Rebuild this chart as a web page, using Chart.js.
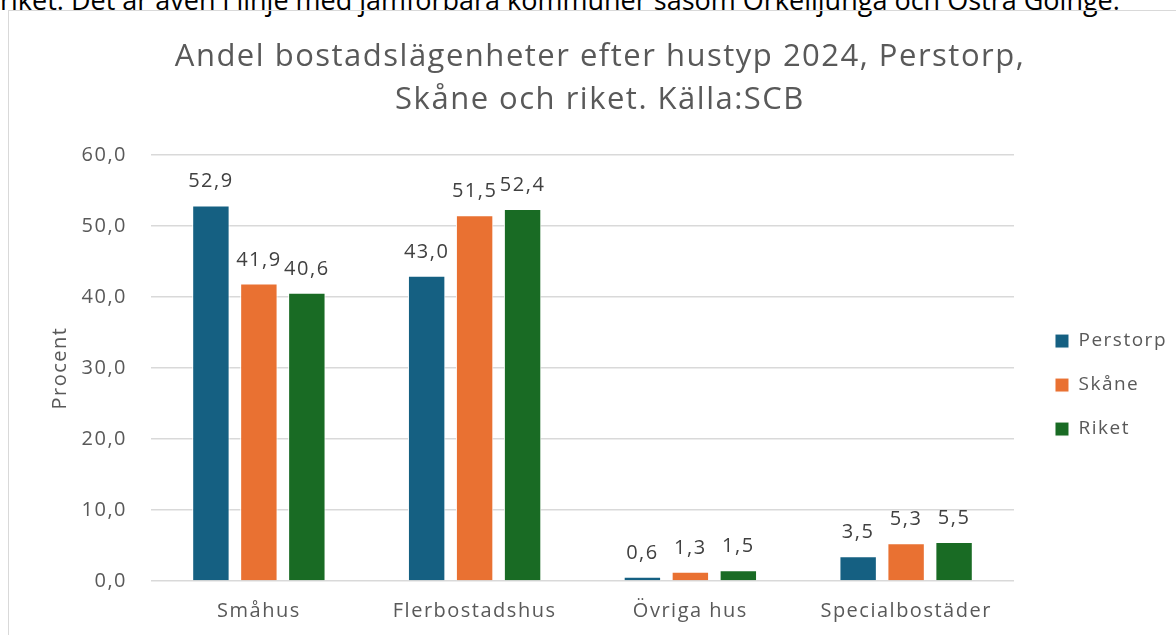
<!DOCTYPE html>
<html>
<head>
<meta charset="utf-8">
<script src="https://cdn.jsdelivr.net/npm/chart.js@4"></script>
<style>
  html, body { margin: 0; padding: 0; background: #fff; overflow: hidden; }
  body { width: 1176px; height: 635px; position: relative; font-family: "Open Sans", sans-serif; }
  #txt { position: absolute; left: 0; top: -15px; font-size: 27px; line-height: 30px; color: #000; white-space: nowrap; }
  #box { position: absolute; left: 8px; top: 10px; width: 1184px; height: 642px; border: 1px solid #d9d9d9; box-sizing: border-box; }
</style>
</head>
<body>
<div id="txt">riket. Det är även i linje med jämförbara kommuner såsom Örkelljunga och Östra Göinge.</div>
<div id="box"><canvas id="myChart"></canvas></div>
<script>
var categories = ['Småhus', 'Flerbostadshus', 'Övriga hus', 'Specialbostäder'];
var perstorp = [52.9, 43.0, 0.6, 3.5];
var skane = [41.9, 51.5, 1.3, 5.3];
var riket = [40.6, 52.4, 1.5, 5.5];
var seriesNames = ['Perstorp', 'Skåne', 'Riket'];
var colors = ['#156082', '#E97132', '#196B24'];

var FONT = '"Open Sans", sans-serif';

function fmt(v) { return v.toFixed(1).replace('.', ','); }

// wider letter spacing, closer to the Office font
var spacing = {
  id: 'spacing',
  beforeLayout: function (chart) { chart.ctx.letterSpacing = '1.5px'; },
  beforeDraw: function (chart) { chart.ctx.letterSpacing = '1.5px'; }
};

// value labels above the bars
var valueLabels = {
  id: 'valueLabels',
  afterDatasetsDraw: function (chart) {
    var c = chart.ctx;
    c.save();
    c.font = '20px ' + FONT;
    c.fillStyle = '#404040';
    c.textAlign = 'center';
    c.textBaseline = 'alphabetic';
    chart.data.datasets.forEach(function (ds, i) {
      chart.getDatasetMeta(i).data.forEach(function (bar, j) {
        c.fillText(fmt(ds.data[j]), bar.x, bar.y - 18);
      });
    });
    c.restore();
  }
};

// title over the full width, legend a bit away from the plot and lower, like Excel
var boxPlace = {
  id: 'boxPlace',
  afterLayout: function (chart) {
    chart.titleBlock.left = 0;
    chart.titleBlock.right = chart.width;
    var lg = chart.legend;
    var w = lg.right - lg.left, h = lg.bottom - lg.top;
    lg.left = chart.chartArea.right + 16;
    lg.right = lg.left + w;
    var mid = chart.chartArea.top + (chart.chartArea.bottom - chart.chartArea.top) * 0.54;
    lg.top = mid - h / 2;
    lg.bottom = mid + h / 2;
  }
};

var ctx = document.getElementById('myChart');
Chart.defaults.font.family = FONT;
Chart.defaults.color = '#595959';

var myChart = new Chart(ctx, {
  type: 'bar',
  data: {
    labels: categories,
    datasets: [perstorp, skane, riket].map(function (d, i) {
      return {
        label: seriesNames[i],
        data: d,
        backgroundColor: colors[i],
        borderColor: '#ffffff',
        borderWidth: 1,
        categoryPercentage: 0.667,
        barPercentage: 0.78
      };
    })
  },
  options: {
    responsive: true,
    maintainAspectRatio: false,
    animation: false,
    layout: { padding: { top: 0, right: 30, bottom: 0, left: 0 } },
    plugins: {
      title: {
        display: true,
        text: ['Andel bostadslägenheter efter hustyp 2024, Perstorp,', 'Skåne och riket. Källa:SCB'],
        font: { size: 31, weight: 'normal', lineHeight: 1.387 },
        color: '#595959',
        padding: { top: 24.5, bottom: 33.5 }
      },
      legend: {
        position: 'right',
        labels: {
          boxWidth: 14,
          boxHeight: 14,
          padding: 25,
          font: { size: 19 },
          color: '#595959'
        }
      },
      tooltip: { enabled: false }
    },
    scales: {
      x: {
        afterFit: function (s) { s.height = 70; },
        grid: { display: false, drawTicks: false },
        border: { display: false },
        ticks: { font: { size: 20 }, color: '#595959', padding: 18 }
      },
      y: {
        min: 0,
        max: 60,
        afterFit: function (s) { s.width = 142; },
        ticks: {
          stepSize: 10,
          font: { size: 20 },
          color: '#595959',
          padding: 24,
          callback: function (v) { return fmt(v); }
        },
        grid: { color: '#d9d9d9', lineWidth: 1.5, drawTicks: false },
        border: { display: false },
        title: {
          display: true,
          text: 'Procent',
          font: { size: 20 },
          color: '#595959',
          padding: { top: 39, bottom: 0 }
        }
      }
    }
  },
  plugins: [spacing, valueLabels, boxPlace]
});
</script>
</body>
</html>
